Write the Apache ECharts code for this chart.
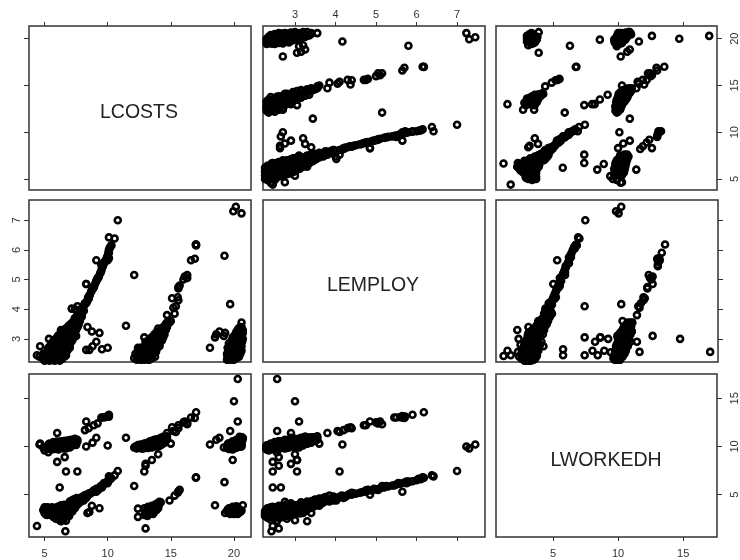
<!DOCTYPE html>
<html>
<head>
<meta charset="utf-8">
<style>html,body{margin:0;padding:0;background:#fff}#c{width:740px;height:560px}</style>
<script src="https://cdn.jsdelivr.net/npm/echarts@6/dist/echarts.min.js"></script>
</head>
<body>
<div id="c"></div>
<script>
// Each row is one observation: [LCOSTS, LEMPLOY, LWORKEDH]
const lowCostLowHours = [
[5.0,2.26,3.1],[5.4,2.26,3.3],[5.8,2.26,2.8],[6.2,2.26,2.9],
[4.9,2.32,3.4],[5.2,2.32,2.9],[5.6,2.32,3.6],[6.0,2.32,2.6],[6.4,2.32,3.0],
[5.0,2.40,3.7],[5.3,2.40,3.2],[5.7,2.40,2.7],[6.1,2.40,3.4],[6.5,2.40,2.4],
[5.1,2.48,2.95],[5.5,2.48,3.5],[5.9,2.48,3.0],[6.3,2.48,2.55],[6.6,2.48,3.2],
[5.2,2.56,3.35],[5.6,2.56,2.85],[6.0,2.56,3.7],[6.4,2.56,3.05],[6.7,2.56,2.3],
[5.3,2.64,3.6],[5.7,2.64,3.15],[6.1,2.64,2.65],[6.5,2.64,3.5],[6.8,2.64,2.9],
[5.4,2.72,3.0],[5.8,2.72,3.45],[6.2,2.72,3.8],[6.6,2.72,2.75],[6.9,2.72,3.3],
[5.5,2.80,3.25],[5.9,2.80,2.5],[6.3,2.80,3.35],[6.7,2.80,3.65],[7.0,2.80,3.1],
[5.6,2.88,3.55],[6.0,2.88,3.0],[6.4,2.88,2.85],[6.8,2.88,3.85],[7.05,2.88,3.4],
[5.75,2.96,3.1],[6.15,2.96,3.6],[6.55,2.96,3.25],[6.9,2.96,3.0],[7.1,2.96,3.7],
[5.95,3.04,3.4],[6.3,3.04,3.75],[6.7,3.04,3.5],[7.0,3.04,3.9],[7.2,3.04,3.25],
[6.1,3.12,3.3],[6.5,3.12,3.05],[6.85,3.12,3.7],[7.15,3.12,4.0],
[6.3,3.20,3.55],[6.65,3.20,3.9],[7.0,3.20,3.45],[7.3,3.20,3.75],
[6.5,3.28,3.7],[6.85,3.28,3.35],[7.15,3.28,4.05],[7.4,3.28,3.6],
[6.7,3.36,3.8],[7.0,3.36,3.6],[7.3,3.36,3.95],
[6.9,3.44,3.7],[7.2,3.44,4.1],[7.5,3.44,3.85],
[7.1,3.52,3.9],[7.4,3.52,4.2],[7.6,3.52,4.0],
[7.3,3.6,4.1],[7.6,3.6,4.3],[7.4,3.7,4.2],[7.7,3.7,4.4],
[7.6,3.8,4.4],[7.9,3.8,4.5],[7.8,3.9,4.5],[8.0,3.9,4.6],
[7.9,4.0,4.6],[8.0,4.0,4.7],[7.15,4.02,4.4],[7.4,4.0,4.55],
[6.3,3.3,2.25],[6.2,3.0,2.35],[4.4,2.45,1.75],[6.65,2.42,1.2],
[6.2,2.45,5.75],[9.55,2.65,5.75],
[5.05,2.3,3.5],[5.45,2.36,3.0],[5.85,2.3,3.3],[6.25,2.44,3.2],[5.25,2.52,3.7],[5.65,2.46,3.25],[6.05,2.54,2.85],
[6.45,2.6,2.6],[5.45,2.6,3.15],[5.85,2.68,2.95],[6.3,2.68,3.3],[6.7,2.68,3.55],[5.6,2.76,3.7],[6.0,2.84,3.3],
[6.5,2.84,3.65],[6.95,2.84,2.8],[5.8,2.92,3.5],[6.25,2.92,3.15],[6.7,2.92,3.0],[6.05,3.0,3.75],[6.45,3.0,3.45],
[6.85,3.0,3.25],[7.1,3.08,3.55],[6.3,3.1,3.9],[6.7,3.16,3.35],[7.05,3.16,3.85],[7.3,3.1,3.95],[6.55,3.24,3.95],
[7.25,3.3,4.2],[7.45,3.34,4.05],[7.6,3.4,4.3],[7.7,3.48,4.45],[7.8,3.6,4.6],[7.3,3.42,4.35],[7.55,3.7,4.65],
[7.95,3.75,4.75],[8.1,3.95,4.8],
[7.0,3.3,4.3],[7.3,3.5,4.5],[7.5,3.6,3.85],[7.7,3.65,4.1],[7.9,3.85,4.3],[8.1,3.95,4.4],[8.3,4.2,4.65],[8.5,4.35,5.1],[7.2,3.4,3.85]
];
const lowCostBandUpper = [
[8.1,4.1,4.75],[8.2,4.2,4.85],[8.4,4.3,4.95],[8.45,4.4,5.0],[8.6,4.5,5.1],[8.7,4.6,5.2],
[8.85,4.7,5.3],[8.95,4.8,5.4],[9.05,4.9,5.45],[9.15,5.0,5.55],[9.3,5.1,5.65],[9.4,5.2,5.75],
[9.5,5.3,5.85],[9.55,5.4,5.95],[9.65,5.5,6.05],[9.75,5.6,6.15],[9.9,5.7,6.25],[10.0,5.8,6.35],
[10.05,5.9,6.4],[10.1,6.0,6.5],[10.2,6.1,6.6],[10.1,6.42,6.9],[10.55,6.38,7.0],[10.8,7.0,7.45],
[9.1,5.65,5.3],[8.3,4.85,5.0],[10.0,5.75,6.2],
[8.15,4.15,4.9],[8.35,4.25,4.8],[8.55,4.45,5.15],[8.75,4.65,5.25],[8.9,4.75,5.45],[9.1,4.95,5.6],[9.25,5.05,5.5],
[9.45,5.25,5.9],[9.6,5.45,5.95],[9.7,5.55,6.2],[9.95,5.75,6.35],[10.15,6.05,6.65],[10.3,6.15,6.7]
];
const lowCostHighHours = [
[4.6,2.4,10.2],[4.9,2.5,9.9],[5.0,2.35,9.6],[5.3,2.55,9.4],[5.3,2.7,10.2],[4.65,2.75,10.3],[5.35,3.0,10.2],
[5.5,2.3,9.7],[5.6,2.45,10.0],[5.7,2.6,9.75],[5.8,2.4,10.1],[5.9,2.75,9.85],[6.0,2.5,10.15],[6.1,2.35,9.8],
[6.2,2.65,10.2],[6.2,2.85,9.9],[6.3,2.45,10.2],[6.4,2.6,9.9],[6.4,2.95,10.4],[6.5,2.75,9.8],[6.6,2.9,10.2],
[6.6,2.55,10.1],[6.7,3.05,10.5],[6.8,2.8,9.9],[6.8,3.0,10.5],[6.9,2.7,10.3],[6.9,3.15,10.1],[7.0,2.95,10.45],
[7.0,3.25,10.3],[7.1,3.1,10.6],[7.1,3.3,10.3],[7.2,3.2,10.65],[7.3,3.35,10.6],[7.3,3.05,10.2],[7.4,3.45,10.65],
[7.4,3.3,10.5],[7.5,3.5,10.6],[7.6,3.55,10.7],[7.6,3.4,10.5],[5.5,2.6,10.2],[5.7,2.85,10.35],[5.9,2.5,10.2],
[6.0,2.9,11.4],[6.0,2.45,8.4],[6.6,2.6,8.9],[6.7,2.45,7.4],[7.6,4.1,7.4],
[5.6,2.35,9.9],[6.0,2.7,10.05],[6.3,2.75,10.25],[6.55,2.7,9.95],[6.75,2.9,10.4],[7.05,3.0,10.05],[7.2,3.1,10.55],
[5.85,2.55,10.05],[6.15,2.6,10.2],[6.45,2.75,10.3],[6.95,3.05,10.4],[7.5,3.3,10.6],
[5.4,2.4,10.3],[5.7,2.5,10.45],[6.0,2.6,10.5],[6.3,2.6,10.55],[6.6,2.8,10.6],[6.9,2.85,10.65],[7.1,2.95,10.7],
[7.4,3.1,10.8],[7.2,2.95,10.35],[6.4,2.4,9.95],[6.7,2.55,9.8],[7.0,2.7,9.9],[7.1,2.9,10.0],[7.5,3.1,10.15],
[5.4,2.3,9.8],[5.8,2.3,9.75],[6.1,2.5,9.7],[6.8,2.6,10.05],[5.9,2.65,10.45]
];
const midCostLadder = [
[8.3,4.85,12.6],[8.2,4.2,11.7],[8.5,4.4,11.9],[8.9,4.75,12.2],[9.2,5.05,12.4],[9.6,5.45,13.0],[9.5,5.5,13.0],
[9.8,5.6,13.05],[10.0,5.65,13.15],[10.1,5.72,13.1],[10.1,5.9,13.3],
[8.3,2.63,10.0],[8.8,2.75,10.4],[9.1,2.9,10.9],[10.0,2.7,10.1],
[8.55,2.63,3.2],[8.4,3.4,3.1],[9.35,3.2,3.6],[8.75,3.25,3.85]
];
const midCostLowHours = [
[12.4,2.7,2.7],[12.4,2.45,3.55],[13.0,2.6,1.5],
[12.9,2.3,2.9],[13.0,2.45,3.2],[13.1,2.35,3.5],[13.15,2.55,2.8],[13.2,2.65,3.35],[13.3,2.3,3.0],[13.3,2.5,3.7],
[13.4,2.75,3.1],[13.45,2.4,3.4],[13.5,2.6,3.85],[13.55,2.85,3.3],[13.6,2.5,3.0],[13.65,2.7,3.55],[13.7,2.95,3.8],
[13.75,2.4,3.65],[13.8,2.8,4.0],[13.85,2.6,3.4],[13.9,3.0,3.7],[13.95,2.9,4.1],[14.05,3.05,3.9],[14.1,2.75,4.25],
[14.2,3.15,4.2],[12.9,2.55,3.6],[13.05,2.8,3.0],
[13.2,2.45,3.75],[13.5,2.35,3.15],[13.7,2.55,3.25],[13.9,2.7,3.85],[14.0,2.95,3.6],
[14.9,3.55,4.4],[15.3,3.85,4.9],[15.55,4.4,5.2],[15.6,4.75,5.35],[15.7,4.8,5.5],[12.1,5.15,5.9],[17.0,6.15,6.8],[16.98,6.18,6.75]
];
const midCostHighHours = [
[12.1,2.35,9.9],[12.2,2.5,10.0],[12.3,2.3,9.8],[12.4,2.6,10.05],[12.5,2.4,9.95],[12.6,2.7,9.85],[12.6,2.3,10.1],
[12.7,2.55,10.15],[12.8,2.45,9.8],[12.9,2.75,10.2],[12.9,2.35,9.85],[13.0,2.6,10.25],[13.1,2.5,9.9],[13.1,2.85,10.3],
[13.2,2.3,10.0],[13.3,2.7,9.95],[13.3,2.95,10.4],[13.4,2.45,10.1],[13.5,2.8,10.05],[13.5,3.05,10.45],[13.6,2.6,10.2],
[13.7,3.15,10.5],[13.7,2.9,10.1],[13.8,2.7,10.3],[13.9,3.25,10.35],[13.9,3.0,10.6],[14.0,2.85,10.3],[14.0,3.35,10.75],
[14.1,3.1,10.4],[14.2,3.3,10.8],[14.2,2.95,10.45],[14.3,3.2,10.55],[14.4,3.4,10.85],[14.4,3.05,10.6],[14.5,3.3,10.95],
[14.6,3.5,10.9],[14.7,3.55,11.05],[14.7,3.4,10.8],
[12.75,2.4,10.0],[13.25,2.55,10.1],[13.75,2.75,10.25],[14.15,3.15,10.65],[14.55,3.45,10.95],[13.35,2.85,10.15],[13.85,2.9,10.4],
[12.6,2.5,10.2],[12.9,2.6,10.3],[13.1,2.65,10.35],[13.3,2.8,10.5],[13.5,2.9,10.6],[13.7,3.05,10.7],[13.9,3.1,10.75],
[14.2,3.15,10.9],[14.4,3.25,11.0],[13.2,2.45,9.85],[13.5,2.55,9.9],[13.8,2.55,10.0],[14.1,2.8,10.05],[14.3,2.95,10.2],
[14.5,3.15,10.4],[14.6,3.3,10.6],[12.4,2.35,10.15],[12.7,2.3,9.8],[13.0,2.35,9.9],
[11.45,3.44,10.9],[15.0,3.6,10.3],[14.7,3.8,11.4],
[15.1,4.37,12.0],[15.2,4.05,11.6],[15.4,4.1,11.5],[15.6,4.3,11.9],[15.6,4.7,12.2],[16.0,5.0,12.5],[16.3,5.05,12.45],
[16.1,5.1,12.6],[16.3,5.15,12.3],[16.6,5.65,13.0],[16.9,5.7,12.95],[17.0,6.18,13.55],
[12.9,3.05,7.4],[13.0,2.6,8.0],[13.0,2.9,8.2],[13.5,3.05,8.6],[14.0,3.0,9.2]
];
const highCostLowHours = [
[18.5,3.05,3.9],[19.3,3.2,3.1],[19.45,2.5,3.3],[19.6,2.7,3.6],[19.7,2.4,3.0],[19.8,2.9,3.4],[19.9,2.6,3.75],
[20.0,2.35,3.2],[20.0,3.0,3.0],[20.1,2.8,3.6],[20.2,2.5,3.4],[20.2,3.1,3.8],[20.3,2.7,3.0],[20.4,2.95,3.5],
[20.5,2.6,3.2],[20.6,3.2,3.35],[20.7,3.3,3.9],[19.25,5.8,6.3],
[19.5,2.4,3.45],[19.75,2.55,3.15],[20.05,2.45,3.55],[20.35,2.85,3.25]
];
const highCostHighHours = [
[19.45,2.3,9.85],[19.55,2.4,9.9],[19.6,2.3,10.05],[19.65,2.55,9.75],[19.7,2.35,9.95],[19.7,2.65,10.2],[19.8,2.45,9.8],
[19.85,2.3,10.1],[19.85,2.75,10.0],[19.9,2.55,10.2],[19.9,2.4,9.7],[19.95,2.85,10.3],[19.95,2.6,9.8],[20.0,2.3,10.05],
[20.0,2.7,10.25],[20.05,2.95,10.0],[20.05,2.45,10.15],[20.1,2.8,9.85],[20.1,2.55,10.2],[20.1,3.05,10.5],[20.2,2.35,9.9],
[20.2,2.65,10.2],[20.2,2.9,10.4],[20.25,3.1,10.0],[20.25,2.5,10.2],[20.3,2.75,10.3],[20.3,3.0,10.5],[20.3,3.2,10.7],
[20.35,2.6,9.95],[20.35,2.85,10.45],[20.35,3.3,10.3],[20.4,2.95,10.1],[20.4,3.1,10.65],[20.5,2.7,10.3],[20.5,3.2,10.1],
[20.55,2.85,10.5],[20.55,3.0,10.3],[20.6,2.75,10.3],[20.6,3.1,10.75],[20.6,3.55,10.9],
[19.5,2.45,10.0],[19.6,2.5,10.1],[19.8,2.6,10.15],[19.9,2.7,9.9],[20.05,2.85,10.2],[20.25,3.0,9.95],[20.3,3.15,10.5],
[20.35,3.35,10.7],[20.2,3.25,10.65],[20.5,3.4,10.4],[19.75,2.8,10.25],[19.95,3.05,10.45],[20.1,3.15,10.6],[19.85,2.95,10.4],
[19.5,2.7,10.2],[19.6,2.85,10.3],[20.4,2.4,10.05],[20.5,2.5,10.0],[20.6,2.6,10.15],[20.65,2.9,10.6],[20.7,3.0,10.8],
[20.7,3.2,10.9],[20.6,3.4,10.95],[20.45,3.25,11.0],[20.4,2.75,10.6],[20.55,2.65,10.5],[20.2,2.75,10.7],[20.3,2.6,10.5],
[19.9,2.9,10.55],[19.55,2.6,10.3],[19.6,2.35,9.75],
[18.1,2.7,10.2],[18.6,3.15,10.7],[18.85,3.25,10.9],[19.2,3.1,9.9],
[19.7,4.17,10.2],[20.15,7.45,10.2],[19.95,7.3,9.8],[20.6,7.23,10.0],
[20.3,2.56,17.0],[20.0,3.0,14.7],[20.3,3.1,12.6],[19.7,2.56,11.6],[19.9,3.05,8.6]
];
const observations = [].concat(lowCostLowHours, lowCostBandUpper, lowCostHighHours, midCostLadder,
  midCostLowHours, midCostHighHours, highCostLowHours, highCostHighHours);

const variableNames = ['LCOSTS', 'LEMPLOY', 'LWORKEDH'];
const tickValues = [[5, 10, 15, 20], [3, 4, 5, 6, 7], [5, 10, 15]];
const xRanges = [[3.77, 21.35], [2.21, 7.69], [0.62, 17.6]];
const yRanges = [[3.82, 21.36], [2.22, 7.68], [0.61, 17.52]];

const colLeft = [29, 263, 496], colWidth = [222, 222, 222];
const rowTop = [26, 200, 374], rowHeight = [164, 162, 163];
const ink = '#333';
const labelFont = 'Liberation Sans, Arial, sans-serif';

const grids = [], xAxes = [], yAxes = [], series = [], texts = [];

for (let r = 0; r < 3; r++) {
  for (let c = 0; c < 3; c++) {
    const idx = grids.length;
    grids.push({ left: colLeft[c], top: rowTop[r], width: colWidth[c], height: rowHeight[r],
      show: true, borderColor: ink, borderWidth: 1.5, backgroundColor: '#fff' });

    const xOuter = r === 0 || r === 2;
    const xLabel = (r === 0 && c === 1) || (r === 2 && c !== 1);
    xAxes.push({
      type: 'value', gridIndex: idx, position: r === 0 ? 'top' : 'bottom', min: xRanges[c][0], max: xRanges[c][1],
      splitLine: { show: false }, axisLine: { show: false },
      axisTick: { show: xOuter, length: 4, lineStyle: { color: ink, width: 1 }, customValues: tickValues[c] },
      axisLabel: { show: xLabel, customValues: tickValues[c], color: ink, fontFamily: labelFont, fontSize: 11,
        margin: r === 0 ? 6 : 11 }
    });

    const yOuter = c === 0 || c === 2;
    const yLabel = (c === 2 && r !== 1) || (c === 0 && r === 1);
    yAxes.push({
      type: 'value', gridIndex: idx, position: c === 2 ? 'right' : 'left', min: yRanges[r][0], max: yRanges[r][1],
      splitLine: { show: false }, axisLine: { show: false },
      axisTick: { show: yOuter, length: 5, lineStyle: { color: ink, width: 1 }, customValues: tickValues[r] },
      axisLabel: { show: yLabel, rotate: 90, customValues: tickValues[r], color: ink, fontFamily: labelFont, fontSize: 11,
        margin: c === 2 ? 12 : 7 }
    });

    if (r === c) {
      texts.push({ type: 'text', silent: true,
        style: { text: variableNames[c], fill: '#222', font: '19.5px ' + labelFont, textAlign: 'center', textVerticalAlign: 'middle',
          x: colLeft[c] + colWidth[c] / 2 - 1, y: rowTop[r] + rowHeight[r] / 2 + 5 } });
    } else {
      series.push({
        type: 'scatter', xAxisIndex: idx, yAxisIndex: idx, symbol: 'circle', symbolSize: 6,
        silent: true, animation: false,
        itemStyle: { color: 'transparent', borderColor: '#000', borderWidth: 2.6, opacity: 1 },
        data: observations.map(o => [o[c], o[r]])
      });
    }
  }
}

const chart = echarts.init(document.getElementById('c'), null, { renderer: 'canvas' });
chart.setOption({
  backgroundColor: '#fff', animation: false, tooltip: { show: false },
  grid: grids, xAxis: xAxes, yAxis: yAxes, series: series, graphic: texts
});
</script>
</body>
</html>
